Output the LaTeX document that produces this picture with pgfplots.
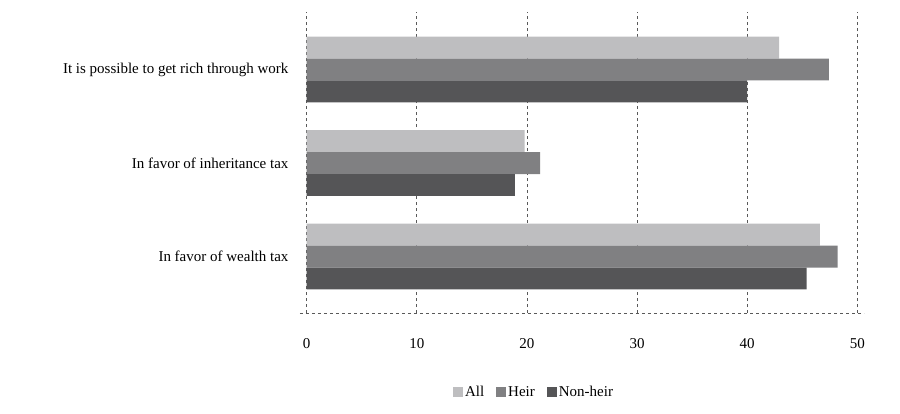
\documentclass[border=0pt]{standalone}
\usepackage{pgfplots}
\pgfplotsset{compat=1.18}
\usepackage{fontspec}
\setmainfont{Liberation Serif}
\definecolor{cAll}{RGB}{190,190,192}
\definecolor{cHeir}{RGB}{128,128,130}
\definecolor{cNon}{RGB}{85,85,87}
\begin{document}
\begin{tikzpicture}[x=1pt,y=1pt]
\useasboundingbox (-300,-100) rectangle (600,313);
\begin{axis}[at={(0,0)},anchor=south west,
  scale only axis, width=564pt, height=301pt,
  xmin=-0.6, xmax=50.6, ymin=-0.604, ymax=2.615,
  axis line style={draw=none},
  xtick={0,10,20,30,40,50},
  ytick={0,1,2},
  yticklabels={In favor of wealth tax,In favor of inheritance tax,It is possible to get rich through work},
  major tick length=0pt,
  xmajorgrids, grid style={dashed,gray!70!black,line width=0.6pt},
  ticklabel style={font=\fontsize{15}{17}\selectfont},
  /pgf/number format/assume math mode=true,
  xticklabel style={yshift=-22pt},
  yticklabel style={xshift=-8pt},
  xbar, bar width=0.235,
  legend style={draw=none, at={(0.415,-0.23)}, anchor=north, legend columns=3,
    font=\fontsize{15}{17}\selectfont, /tikz/every even column/.append style={column sep=10pt}},
  legend image code/.code={\fill[#1] (0pt,-5pt) rectangle (10pt,5pt);},
  clip=false,
]
\addplot[fill=cAll, draw=none, bar shift=0.235] coordinates {(46.6,0) (19.8,1) (42.9,2)};
\addplot[fill=cHeir, draw=none, bar shift=0] coordinates {(48.2,0) (21.2,1) (47.4,2)};
\addplot[fill=cNon, draw=none, bar shift=-0.235] coordinates {(45.4,0) (18.9,1) (40.0,2)};
\legend{All,Heir,Non-heir}
\draw[dashed,gray!70!black,line width=0.6pt] (axis cs:-0.6,-0.604) -- (axis cs:50.6,-0.604);
\end{axis}
\end{tikzpicture}
\end{document}
